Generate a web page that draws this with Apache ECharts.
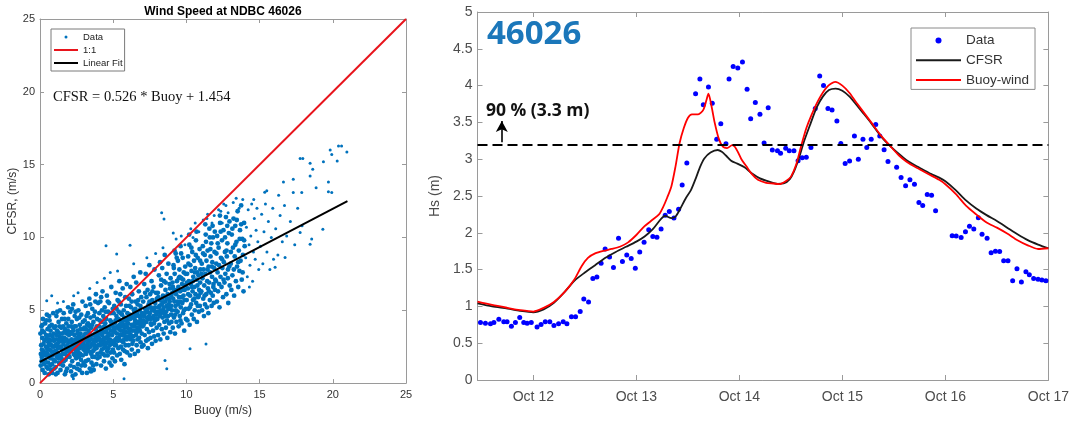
<!DOCTYPE html>
<html>
<head>
<meta charset="utf-8">
<script src="https://cdn.jsdelivr.net/npm/echarts@6/dist/echarts.min.js"></script>
<style>
html,body{margin:0;padding:0;background:#fff;}
#c{width:1072px;height:422px;}
</style>
</head>
<body>
<div id="c"></div>
<script>
// ---------- Left panel: wind speed scatter (Buoy vs CFSR, m/s) ----------
const windTicks = [0, 5, 10, 15, 20, 25];
// dense core of the cloud (Buoy 0-14 m/s)
const windCore = [
[0.05,1.2],[0.08,2.6],[0.1,3.9],[0.12,1.8],[0.15,3.1],[0.18,0.9],[0.2,4.4],[0.22,2.2],[0.25,1.5],[0.27,3.5],[0.3,2.9],[0.32,0.7],[0.35,4.1],[0.37,1.9],[0.4,2.5],[0.42,3.3],[0.45,1.1],[0.47,4.7],[0.5,2.0],[0.52,3.7],[0.55,1.4],[0.57,2.8],[0.6,0.6],[0.62,3.0],[0.65,4.3],[0.67,2.3],[0.7,1.7],[0.72,3.6],[0.75,0.9],[0.77,2.6],[0.8,4.0],[0.82,1.3],[0.85,3.2],[0.87,2.1],[0.9,4.8],[0.92,1.6],[0.95,2.9],[0.97,3.8],[0.03,3.4],[0.13,2.3],[0.28,1.3],[0.38,3.0],[0.48,2.4],[0.58,1.9],[0.68,3.3],[0.78,1.9],[0.88,2.5],[0.98,1.0],[0.43,4.3],[0.63,4.6],[0.33,2.0],[0.53,1.0],[0.73,2.9],[0.93,3.4],[0.17,4.0],[0.83,0.7],
[1.02,2.2],[1.05,3.9],[1.07,1.1],[1.1,3.0],[1.12,4.6],[1.15,1.8],[1.17,2.7],[1.2,0.7],[1.22,3.5],[1.25,2.0],[1.27,4.2],[1.3,1.4],[1.32,3.2],[1.35,2.5],[1.37,5.0],[1.4,0.9],[1.42,2.9],[1.45,3.8],[1.47,1.7],[1.5,4.4],[1.52,2.3],[1.55,3.4],[1.57,1.2],[1.6,2.7],[1.62,4.8],[1.65,2.0],[1.67,3.1],[1.7,0.6],[1.72,3.7],[1.75,1.6],[1.77,2.5],[1.8,4.1],[1.82,3.0],[1.85,1.0],[1.87,2.2],[1.9,3.6],[1.92,5.2],[1.95,1.9],[1.97,2.8],[1.03,1.5],[1.13,3.3],[1.23,2.4],[1.33,3.9],[1.43,1.9],[1.53,2.9],[1.63,1.5],[1.73,2.3],[1.83,3.4],[1.93,4.4],[1.18,4.9],[1.38,1.3],[1.58,3.9],[1.78,0.8],[1.98,3.3],[1.28,2.8],[1.48,3.1],[1.68,4.4],[1.88,2.6],[1.08,0.6],
[2.02,1.8],[2.05,3.5],[2.07,4.9],[2.1,2.4],[2.12,0.8],[2.15,3.0],[2.17,4.2],[2.2,1.5],[2.22,2.7],[2.25,3.8],[2.27,5.4],[2.3,2.0],[2.32,1.1],[2.35,3.3],[2.37,4.6],[2.4,2.6],[2.42,0.6],[2.45,3.9],[2.47,1.7],[2.5,2.9],[2.52,4.4],[2.55,2.2],[2.57,3.6],[2.6,1.3],[2.62,5.0],[2.65,2.7],[2.67,3.2],[2.7,0.9],[2.72,4.0],[2.75,2.0],[2.77,3.4],[2.8,1.6],[2.82,4.7],[2.85,2.5],[2.87,3.0],[2.9,5.6],[2.92,1.9],[2.95,3.7],[2.97,2.3],[2.03,2.9],[2.13,3.9],[2.23,0.5],[2.33,2.8],[2.43,4.9],[2.53,1.0],[2.63,2.1],[2.73,3.0],[2.83,1.2],[2.93,4.2],[2.08,1.2],[2.28,3.6],[2.48,2.4],[2.68,4.5],[2.88,0.7],[2.18,5.1],[2.38,1.9],[2.58,3.1],[2.78,2.6],[2.98,1.4],
[3.02,2.6],[3.05,4.3],[3.07,1.2],[3.1,3.4],[3.12,5.3],[3.15,2.0],[3.17,3.0],[3.2,0.7],[3.22,4.0],[3.25,2.4],[3.27,4.8],[3.3,1.6],[3.32,3.6],[3.35,2.9],[3.37,5.8],[3.4,1.0],[3.42,3.2],[3.45,4.5],[3.47,2.1],[3.5,3.8],[3.52,1.4],[3.55,2.7],[3.57,5.1],[3.6,3.3],[3.62,2.2],[3.65,4.2],[3.67,0.9],[3.7,3.0],[3.72,1.8],[3.75,4.9],[3.77,2.5],[3.8,3.7],[3.82,6.1],[3.85,1.3],[3.87,2.9],[3.9,4.4],[3.92,2.0],[3.95,3.5],[3.97,5.5],[3.03,3.8],[3.13,1.5],[3.23,3.1],[3.33,2.2],[3.43,5.4],[3.53,3.0],[3.63,1.2],[3.73,2.6],[3.83,3.2],[3.93,1.7],[3.08,2.2],[3.28,4.1],[3.48,0.8],[3.68,4.6],[3.88,3.9],[3.18,4.6],[3.38,2.5],[3.58,1.8],[3.78,5.6],[3.98,2.6],
[4.02,3.1],[4.05,4.8],[4.07,1.8],[4.1,2.6],[4.12,5.6],[4.15,3.6],[4.17,1.2],[4.2,4.2],[4.22,2.3],[4.25,3.3],[4.27,6.3],[4.3,2.0],[4.32,4.6],[4.35,2.9],[4.37,1.5],[4.4,3.9],[4.42,5.2],[4.45,2.5],[4.47,3.5],[4.5,1.0],[4.52,4.4],[4.55,2.8],[4.57,6.0],[4.6,3.2],[4.62,1.9],[4.65,4.9],[4.67,2.4],[4.7,3.8],[4.72,5.5],[4.75,1.4],[4.77,3.0],[4.8,4.3],[4.82,2.1],[4.85,3.6],[4.87,6.6],[4.9,2.7],[4.92,4.0],[4.95,1.7],[4.97,5.1],[4.03,3.9],[4.13,2.1],[4.23,5.0],[4.33,3.5],[4.43,1.9],[4.53,3.6],[4.63,5.6],[4.73,2.9],[4.83,4.8],[4.93,3.3],[4.08,4.3],[4.28,2.7],[4.48,4.9],[4.68,3.4],[4.88,1.2],[4.18,5.9],[4.38,3.1],[4.58,2.2],[4.78,3.9],[4.98,2.3],
[5.02,3.6],[5.05,2.1],[5.07,5.3],[5.1,4.1],[5.12,1.5],[5.15,3.0],[5.17,6.2],[5.2,2.6],[5.22,4.6],[5.25,3.4],[5.27,1.9],[5.3,5.7],[5.32,3.9],[5.35,2.4],[5.37,4.9],[5.4,3.1],[5.42,7.0],[5.45,2.0],[5.47,4.3],[5.5,3.6],[5.52,5.4],[5.55,1.6],[5.57,2.9],[5.6,4.7],[5.62,3.3],[5.65,6.5],[5.67,2.3],[5.7,4.0],[5.72,5.0],[5.75,3.0],[5.77,1.3],[5.8,3.8],[5.82,5.9],[5.85,2.6],[5.87,4.4],[5.9,3.5],[5.92,6.8],[5.95,2.1],[5.97,4.8],[5.03,4.8],[5.13,3.5],[5.23,5.1],[5.33,2.9],[5.43,4.0],[5.53,2.5],[5.63,4.2],[5.73,3.5],[5.83,4.3],[5.93,3.0],[5.08,2.8],[5.28,4.4],[5.48,6.1],[5.68,2.8],[5.88,5.3],[5.18,3.8],[5.38,5.6],[5.58,3.9],[5.78,2.2],[5.98,3.8],
[6.02,4.1],[6.05,2.6],[6.07,5.8],[6.1,3.5],[6.12,4.7],[6.15,1.9],[6.17,6.6],[6.2,3.0],[6.22,5.2],[6.25,4.0],[6.27,2.3],[6.3,6.1],[6.32,3.6],[6.35,4.5],[6.37,2.9],[6.4,7.3],[6.42,5.0],[6.45,3.9],[6.47,2.0],[6.5,4.3],[6.52,5.6],[6.55,3.3],[6.57,6.9],[6.6,2.6],[6.62,4.8],[6.65,3.8],[6.67,5.4],[6.7,2.2],[6.72,4.1],[6.75,6.3],[6.77,3.1],[6.8,5.0],[6.82,3.6],[6.85,7.6],[6.87,2.8],[6.9,4.6],[6.92,5.9],[6.95,3.4],[6.97,4.2],[6.06,3.2],[6.16,4.4],[6.26,5.6],[6.36,3.2],[6.46,4.8],[6.56,4.1],[6.66,3.0],[6.76,4.6],[6.86,5.3],[6.96,2.5],[6.11,5.3],[6.31,2.7],[6.51,3.6],[6.71,5.7],[6.91,3.9],
[7.02,3.9],[7.05,5.6],[7.07,2.6],[7.1,4.6],[7.12,6.8],[7.15,3.3],[7.17,5.1],[7.2,4.2],[7.22,7.5],[7.25,2.9],[7.27,5.9],[7.3,3.7],[7.32,4.9],[7.35,6.4],[7.37,2.4],[7.4,4.4],[7.42,5.4],[7.45,3.5],[7.47,8.1],[7.5,4.8],[7.52,6.1],[7.55,3.1],[7.57,5.2],[7.6,4.0],[7.62,7.0],[7.65,2.7],[7.67,5.7],[7.7,4.5],[7.72,3.6],[7.75,6.6],[7.77,5.0],[7.8,3.2],[7.82,7.8],[7.85,4.3],[7.87,5.5],[7.9,2.9],[7.92,6.2],[7.95,4.7],[7.97,3.8],[7.08,4.0],[7.18,6.2],[7.28,4.5],[7.38,3.0],[7.48,5.6],[7.58,4.4],[7.68,6.3],[7.78,4.1],[7.88,4.9],[7.98,5.8],
[8.02,4.4],[8.05,6.2],[8.07,3.3],[8.1,5.2],[8.12,7.4],[8.15,4.0],[8.17,5.7],[8.2,8.3],[8.22,3.0],[8.25,4.8],[8.27,6.7],[8.3,5.4],[8.32,3.7],[8.35,7.9],[8.37,4.5],[8.4,6.0],[8.42,5.0],[8.45,3.4],[8.47,7.0],[8.5,4.2],[8.52,8.8],[8.55,5.6],[8.57,6.4],[8.6,3.8],[8.62,4.9],[8.65,7.5],[8.67,5.3],[8.7,3.1],[8.72,6.1],[8.75,4.6],[8.77,8.2],[8.8,5.8],[8.82,4.1],[8.85,6.8],[8.87,5.1],[8.9,3.5],[8.92,7.2],[8.95,4.7],[8.97,6.0],[8.08,5.9],[8.18,4.6],[8.28,7.1],[8.38,5.5],[8.48,4.8],[8.58,6.9],[8.68,4.3],[8.78,5.4],[8.88,6.5],[8.98,4.2],
[9.02,5.0],[9.05,6.9],[9.07,3.8],[9.1,5.8],[9.12,8.1],[9.15,4.5],[9.17,6.4],[9.2,7.5],[9.22,3.4],[9.25,5.3],[9.27,8.9],[9.3,6.1],[9.32,4.2],[9.35,7.0],[9.37,5.6],[9.4,4.9],[9.42,8.4],[9.45,6.6],[9.47,3.9],[9.5,5.9],[9.52,7.8],[9.55,4.6],[9.57,6.3],[9.6,9.4],[9.62,5.2],[9.65,7.2],[9.67,4.1],[9.7,6.8],[9.72,5.5],[9.75,8.6],[9.77,4.8],[9.8,6.0],[9.82,7.6],[9.85,3.6],[9.87,5.7],[9.9,6.7],[9.92,8.0],[9.95,5.1],[9.97,4.4],[9.08,6.6],[9.28,5.0],[9.48,7.2],[9.68,5.9],[9.88,6.4],[9.18,5.6],[9.38,6.4],[9.58,5.6],[9.78,7.1],
[10.02,5.7],[10.05,7.5],[10.07,4.3],[10.1,6.5],[10.12,8.7],[10.15,5.1],[10.17,7.0],[10.2,9.5],[10.22,4.0],[10.25,6.0],[10.27,8.1],[10.3,6.8],[10.32,5.4],[10.35,7.7],[10.37,4.7],[10.4,9.0],[10.42,6.3],[10.45,5.7],[10.47,7.3],[10.5,4.4],[10.52,8.4],[10.55,6.6],[10.57,5.0],[10.6,7.9],[10.62,6.1],[10.65,9.8],[10.67,5.5],[10.7,7.1],[10.72,4.2],[10.75,6.7],[10.77,8.6],[10.8,5.9],[10.82,7.4],[10.85,4.9],[10.87,6.4],[10.9,9.2],[10.92,5.3],[10.95,7.8],[10.97,6.2],[10.12,6.1],[10.38,6.6],[10.58,7.6],[10.78,5.3],[10.94,6.9],
[11.02,6.3],[11.05,8.2],[11.07,5.0],[11.1,7.2],[11.12,9.4],[11.15,5.8],[11.17,7.8],[11.2,4.6],[11.22,6.7],[11.25,8.8],[11.27,5.4],[11.3,7.5],[11.32,10.2],[11.35,6.1],[11.37,8.4],[11.4,5.2],[11.42,7.0],[11.45,9.1],[11.47,6.5],[11.5,4.8],[11.52,8.0],[11.55,6.9],[11.57,10.6],[11.6,5.7],[11.62,7.6],[11.65,8.7],[11.67,6.2],[11.7,9.6],[11.72,5.3],[11.75,7.3],[11.77,8.3],[11.8,6.0],[11.82,10.0],[11.85,6.8],[11.87,5.5],[11.9,7.9],[11.92,9.0],[11.95,6.4],[11.97,7.1],[11.6,10.0],
[12.02,7.0],[12.05,8.9],[12.08,5.6],[12.1,10.1],[12.13,7.6],[12.16,6.3],[12.2,9.3],[12.23,8.1],[12.26,5.2],[12.3,11.0],[12.33,7.3],[12.36,8.6],[12.4,6.6],[12.43,9.8],[12.46,7.9],[12.5,5.9],[12.53,10.5],[12.56,8.3],[12.6,6.9],[12.63,9.0],[12.66,7.5],[12.7,11.4],[12.73,6.1],[12.76,8.7],[12.8,9.6],[12.83,7.2],[12.86,5.5],[12.9,10.3],[12.93,8.0],[12.96,6.7],
[13.03,8.2],[13.07,6.4],[13.1,10.2],[13.14,7.4],[13.18,9.3],[13.22,11.3],[13.26,6.0],[13.3,8.7],[13.34,10.8],[13.38,7.0],[13.42,9.7],[13.46,8.0],[13.5,11.8],[13.54,6.6],[13.58,9.1],[13.62,7.7],[13.66,10.5],[13.7,8.4],[13.74,12.2],[13.78,7.1],[13.82,9.9],[13.86,8.8],[13.9,6.3],[13.94,11.0],[13.98,9.4]
];
// extra points where the cloud is densest
const windCoreFill = [
[0.06,2.0],[0.16,3.6],[0.24,2.7],[0.36,1.6],[0.46,3.2],[0.56,2.3],[0.66,3.9],[0.76,2.2],[0.86,1.9],[0.96,2.5],[0.11,1.5],[0.41,2.1],[0.71,1.2],[0.91,3.0],[0.61,2.6],
[1.06,2.6],[1.16,3.6],[1.26,1.7],[1.36,3.0],[1.46,2.5],[1.56,2.0],[1.66,3.5],[1.76,2.9],[1.86,1.8],[1.96,3.9],[1.11,2.2],[1.41,3.4],[1.71,2.0],[1.91,2.4],[1.51,1.5],
[2.06,2.2],[2.16,3.4],[2.26,2.4],[2.36,3.9],[2.46,2.2],[2.56,3.4],[2.66,1.8],[2.76,3.7],[2.86,2.8],[2.96,3.2],[2.11,2.8],[2.41,3.0],[2.71,2.4],[2.91,2.6],[2.51,1.9],
[3.06,2.9],[3.16,3.7],[3.26,2.7],[3.36,3.4],[3.46,2.5],[3.56,4.0],[3.66,2.8],[3.76,3.4],[3.86,2.4],[3.96,3.0],[3.11,2.5],[3.41,3.9],[3.71,2.3],[3.91,3.2],[3.51,2.0],
[4.06,3.4],[4.16,2.8],[4.26,3.8],[4.36,2.4],[4.46,4.1],[4.56,3.1],[4.66,3.8],[4.76,2.6],[4.86,4.2],[4.96,3.6],[4.11,3.0],[4.41,4.4],[4.71,3.3],[4.91,2.9],[4.51,2.7],
[5.06,3.8],[5.16,4.3],[5.26,3.1],[5.36,4.4],[5.46,3.3],[5.56,4.1],[5.66,3.6],[5.76,4.5],[5.86,3.2],[5.96,4.1],[5.11,2.6],[5.41,3.7],[5.71,3.3],[5.91,3.9],[5.51,4.8],
[6.06,4.4],[6.16,3.7],[6.26,4.6],[6.36,3.9],[6.46,4.1],[6.56,4.6],[6.66,4.2],[6.76,3.8],[6.86,4.4],[6.96,4.8],[6.21,3.3],[6.41,4.5],[6.61,3.5],[6.81,4.1],[6.51,5.1],
[7.06,4.3],[7.16,4.8],[7.26,4.2],[7.36,5.1],[7.46,4.6],[7.56,4.1],[7.66,5.0],[7.76,4.6],[7.86,5.2],[7.96,4.4],
[8.06,4.9],[8.16,5.3],[8.26,5.0],[8.36,5.8],[8.46,5.2],[8.56,4.6],[8.66,5.8],[8.76,5.1],[8.86,5.6],[8.96,5.3],
[9.04,6.2],[9.14,7.9],[9.24,4.7],[9.34,8.6],[9.44,5.4],[9.54,7.3],[9.64,8.9],[9.74,6.4],[9.84,5.0],[9.94,7.5],[9.19,9.1],[9.59,4.3],
[10.04,6.9],[10.14,8.2],[10.24,5.2],[10.34,9.3],[10.44,7.0],[10.54,5.8],[10.64,8.8],[10.74,7.6],[10.84,6.0],[10.94,8.4],[10.19,10.2],[10.69,10.4],
[11.04,7.5],[11.14,8.9],[11.24,6.0],[11.34,9.7],[11.44,7.8],[11.54,6.3],[11.64,9.2],[11.74,8.0],[11.84,6.6],[11.94,10.4],[11.29,10.9],[11.79,10.8],
[12.04,8.2],[12.14,9.6],[12.24,6.8],[12.34,10.4],[12.44,8.5],[12.54,7.1],[12.64,10.0],[12.74,9.1],[12.84,7.8],[12.94,11.1],[12.29,11.5],[12.79,10.8],
[13.04,9.0],[13.14,10.6],[13.24,7.8],[13.34,9.5],[13.44,11.2],[13.54,8.3],[13.64,9.9],[13.74,10.9],[13.84,7.6],[13.94,9.8]
];
// sparse fringe, high-wind tail and outliers
const windSparse = [
[1.6,5.6],[1.2,5.5],[2.6,6.2],[2.3,6.0],[3.4,6.5],[3.9,6.9],[4.4,7.2],[4.8,7.6],[5.3,7.7],[6.4,8.2],[7.3,8.6],[7.9,8.9],[8.4,9.3],
[9.1,10.3],[9.3,9.9],[9.65,10.1],[9.9,9.5],[10.3,10.6],[10.6,11.0],[10.85,10.4],[10.45,10.0],
[11.4,11.3],[11.15,11.2],[11.45,11.6],[11.75,11.0],[11.9,11.5],
[12.2,11.9],[12.7,12.2],[12.35,11.8],[12.55,12.3],[12.85,11.7],[12.45,11.0],
[13.4,12.7],[13.2,12.4],[13.6,12.0],[13.85,12.6],
[14.05,8.6],[14.1,10.7],[14.16,7.3],[14.22,11.9],[14.28,9.5],[14.34,8.1],[14.4,10.1],[14.46,12.3],[14.52,7.0],[14.58,9.0],[14.64,11.3],[14.7,8.5],[14.76,10.5],[14.82,12.0],[14.88,9.7],[14.94,7.8],[14.3,6.6],[14.6,12.6],
[15.06,9.4],[15.14,11.6],[15.22,8.2],[15.3,10.4],[15.4,12.3],[15.5,9.0],[15.6,11.1],[15.7,7.8],[15.8,10.0],[15.9,12.0],[15.35,13.1],
[16.1,10.6],[16.25,8.8],[16.4,11.5],[16.55,9.7],[16.7,12.2],[16.85,10.1],[16.3,12.9],
[17.1,11.1],[17.4,9.5],[17.6,12.0],[17.9,10.8],
[20.39,16.28],[20.6,16.28],[20.96,15.87],[19.82,16.0],[19.93,15.7],[20.3,15.25],[19.36,15.2],[17.77,15.43],[17.95,15.43],[18.45,15.09],[18.63,14.68],[18.45,14.22],[18.86,13.42],[19.7,13.8],[19.7,13.13],[19.93,13.08],[19.32,10.57],[18.56,9.89],[18.45,9.54],[17.77,10.34],[16.63,13.8],[17.3,14.0],[17.3,13.08],[17.88,13.08],[15.49,13.2],[15.95,8.5],[16.06,7.95],[16.74,8.63],[8.31,11.7],[8.47,11.26],[6.15,9.47],[4.51,9.43],[5.24,8.86],[0.8,6.0],[0.46,5.66],[10.25,2.35],[11.34,2.69],[8.54,1.55],[8.66,0.98],[5.74,0.3],[2.28,0.3]
];
const oneToOne = [[0, 0], [25, 25]];
const linearFit = [[0, 1.454], [21, 12.5]];

// ---------- Right panel: Hs at 46026 (day of October, m) ----------
const dayTicks = [12, 13, 14, 15, 16, 17];
const buoyDays = [11.487,11.535,11.584,11.617,11.665,11.713,11.745,11.787,11.826,11.868,11.907,11.94,11.98,12.036,12.075,12.116,12.16,12.20,12.245,12.29,12.326,12.37,12.41,12.455,12.49,12.536,12.578,12.617,12.658,12.697,12.74,12.778,12.827,12.865,12.907,12.95,12.99,13.033,13.075,13.12,13.16,13.20,13.24,13.28,13.32,13.365,13.41,13.445,13.49,13.575,13.617,13.65,13.70,13.737,13.78,13.82,13.87,13.90,13.94,13.985,14.03,14.075,14.11,14.155,14.20,14.24,14.28,14.32,14.37,14.40,14.45,14.485,14.53,14.57,14.61,14.65,14.695,14.737,14.78,14.817,14.86,14.90,14.947,14.985,15.027,15.07,15.117,15.155,15.20,15.237,15.28,15.324,15.363,15.405,15.443,15.527,15.57,15.614,15.656,15.70,15.743,15.78,15.824,15.866,15.905,16.066,16.105,16.153,16.195,16.234,16.276,16.32,16.356,16.405,16.444,16.486,16.527,16.566,16.608,16.653,16.695,16.738,16.782,16.815,16.857,16.90,16.937,16.976];
const buoyHs = [0.78,0.77,0.765,0.78,0.825,0.79,0.79,0.73,0.78,0.85,0.78,0.77,0.78,0.72,0.755,0.79,0.79,0.74,0.765,0.79,0.765,0.86,0.86,0.93,1.10,1.06,1.38,1.40,1.585,1.78,1.67,1.53,1.925,1.61,1.70,1.65,1.52,1.74,1.87,2.04,1.95,1.94,2.05,2.24,2.29,2.20,2.32,2.65,2.95,3.89,4.09,3.74,3.98,3.76,3.27,3.48,3.21,4.09,4.26,4.24,4.32,3.95,3.55,3.77,3.61,3.22,3.70,3.125,3.115,3.08,3.15,3.115,3.115,2.98,3.02,3.025,3.16,3.69,4.13,4.00,3.69,3.67,3.52,3.215,2.94,2.975,3.315,3.00,3.27,3.16,3.27,3.47,3.315,3.13,2.97,2.89,2.75,2.64,2.72,2.66,2.41,2.37,2.52,2.51,2.30,1.96,1.955,1.935,2.015,2.09,2.05,2.205,1.98,1.925,1.73,1.75,1.745,1.62,1.62,1.35,1.51,1.33,1.47,1.43,1.38,1.37,1.36,1.35];
const cfsrDays = [11.458,11.6,11.75,11.87,12.0,12.1,12.2,12.3,12.4,12.5,12.6,12.7,12.8,12.9,13.0,13.08,13.16,13.24,13.28,13.34,13.38,13.42,13.48,13.53,13.58,13.62,13.66,13.72,13.79,13.83,13.87,13.92,13.98,14.05,14.12,14.2,14.29,14.37,14.43,14.49,14.53,14.58,14.63,14.69,14.75,14.81,14.87,14.935,15.0,15.07,15.13,15.2,15.28,15.375,15.47,15.55,15.62,15.7,15.78,15.86,15.94,16.0,16.1,16.2,16.3,16.4,16.5,16.6,16.7,16.8,16.9,17.0];
const cfsrHs = [1.04,1.0,0.97,0.94,0.92,0.96,1.05,1.19,1.35,1.46,1.56,1.66,1.74,1.81,1.88,1.95,2.05,2.19,2.23,2.20,2.22,2.31,2.47,2.58,2.75,2.90,3.01,3.09,3.125,3.10,3.05,2.98,2.94,2.89,2.81,2.74,2.695,2.665,2.67,2.73,2.83,3.02,3.25,3.48,3.70,3.85,3.94,3.96,3.93,3.85,3.75,3.63,3.49,3.31,3.17,3.07,2.99,2.92,2.86,2.80,2.75,2.70,2.58,2.44,2.33,2.24,2.16,2.07,1.98,1.90,1.84,1.79];
const windDays = [11.458,11.6,11.75,11.87,12.0,12.1,12.2,12.3,12.4,12.47,12.53,12.6,12.68,12.76,12.84,12.92,13.0,13.08,13.16,13.22,13.26,13.3,13.34,13.38,13.42,13.46,13.5,13.54,13.6,13.65,13.68,13.70,13.73,13.76,13.8,13.84,13.88,13.93,13.97,14.02,14.07,14.12,14.18,14.26,14.33,14.39,14.45,14.5,14.55,14.6,14.65,14.7,14.77,14.85,14.93,15.0,15.07,15.13,15.2,15.28,15.375,15.47,15.55,15.62,15.7,15.78,15.86,15.94,16.0,16.1,16.2,16.3,16.4,16.5,16.6,16.7,16.8,16.9,17.0];
const windHs = [1.065,1.02,0.98,0.95,0.93,0.98,1.06,1.19,1.37,1.55,1.66,1.72,1.755,1.78,1.81,1.87,1.97,2.09,2.18,2.25,2.35,2.48,2.63,2.90,3.22,3.42,3.56,3.61,3.61,3.67,3.80,3.89,3.72,3.50,3.28,3.17,3.15,3.19,3.14,3.00,2.90,2.80,2.72,2.68,2.67,2.66,2.70,2.76,2.92,3.18,3.42,3.60,3.81,3.98,4.05,4.00,3.90,3.78,3.65,3.50,3.32,3.17,3.05,2.97,2.90,2.84,2.78,2.72,2.66,2.53,2.37,2.25,2.14,2.07,1.99,1.90,1.83,1.78,1.79];
const threshold = 3.2;
const arrowFrom = [11.694, 3.23];
const arrowTo = [11.694, 3.52];

const zip = (a, b) => a.map((v, i) => [v, b[i]]);

const chart = echarts.init(document.getElementById('c'), null, {renderer: 'canvas'});
const SANS = '"Liberation Sans", Arial, sans-serif';
const frame = '#9a9a9a';

function boxAxis(gridIndex, pos, extra) {
  return Object.assign({
    type: 'value', gridIndex: gridIndex, position: pos,
    axisLine: {show: true, onZero: false, lineStyle: {color: frame, width: 1}},
    axisTick: {show: true, inside: true, length: 4, lineStyle: {color: frame}},
    axisLabel: {show: false},
    splitLine: {show: false}
  }, extra);
}
const noDot = {opacity: 0};
const cloudStyle = {color: '#0072BD', opacity: 1};

const option = {
  animation: false,
  backgroundColor: '#fff',
  grid: [
    {left: 40, top: 19, width: 366, height: 365},
    {left: 477.5, top: 12, width: 572.5, height: 368}
  ],
  xAxis: [
    boxAxis(0, 'bottom', {min: 0, max: 25, interval: 5,
      axisLabel: {show: true, fontSize: 11, color: '#333', fontFamily: SANS, margin: 6},
      name: 'Buoy (m/s)', nameLocation: 'middle', nameGap: 21,
      nameTextStyle: {fontSize: 12, color: '#333', fontFamily: SANS}}),
    boxAxis(0, 'top', {min: 0, max: 25, interval: 5}),
    boxAxis(1, 'bottom', {min: 11.458, max: 17,
      axisTick: {show: true, inside: true, length: 5, lineStyle: {color: frame}, customValues: dayTicks},
      axisLabel: {show: true, customValues: dayTicks, fontSize: 14, color: '#4d4d4d', fontFamily: SANS, margin: 10,
        formatter: v => 'Oct ' + Math.round(v)}}),
    boxAxis(1, 'top', {min: 11.458, max: 17,
      axisTick: {show: true, inside: true, length: 5, lineStyle: {color: frame}, customValues: dayTicks}})
  ],
  yAxis: [
    boxAxis(0, 'left', {min: 0, max: 25, interval: 5,
      axisLabel: {show: true, fontSize: 11, color: '#333', fontFamily: SANS, margin: 5},
      name: 'CFSR, (m/s)', nameLocation: 'middle', nameGap: 17,
      nameTextStyle: {fontSize: 12, color: '#333', fontFamily: SANS}}),
    boxAxis(0, 'right', {min: 0, max: 25, interval: 5}),
    boxAxis(1, 'left', {min: 0, max: 5, interval: 0.5,
      axisTick: {show: true, inside: true, length: 5, lineStyle: {color: frame}},
      axisLabel: {show: true, fontSize: 14, color: '#4d4d4d', fontFamily: SANS, margin: 5},
      name: 'Hs (m)', nameLocation: 'middle', nameGap: 31,
      nameTextStyle: {fontSize: 14, color: '#4d4d4d', fontFamily: SANS}}),
    boxAxis(1, 'right', {min: 0, max: 5, interval: 0.5,
      axisTick: {show: true, inside: true, length: 5, lineStyle: {color: frame}}})
  ],
  legend: [
    {
      left: 51, top: 29, orient: 'vertical', selectedMode: false,
      itemWidth: 24, itemHeight: 3, itemGap: 1,
      padding: [2, 2, 2, 2],
      borderColor: '#7a7a7a', borderWidth: 1,
      textStyle: {fontSize: 9.5, color: '#222', fontFamily: SANS, lineHeight: 12},
      data: [{name: 'Data', icon: 'circle', itemStyle: {color: '#0072BD'}},
             {name: '1:1', itemStyle: noDot}, {name: 'Linear Fit', itemStyle: noDot}]
    },
    {
      left: 911, top: 28, orient: 'vertical', selectedMode: false,
      itemWidth: 45, itemHeight: 6, itemGap: 4.7,
      padding: [5, 6, 2, 4],
      borderColor: '#8a8a8a', borderWidth: 1,
      textStyle: {fontSize: 13.5, color: '#333', fontFamily: SANS, lineHeight: 15},
      data: [{name: 'Data', icon: 'circle', itemStyle: {color: '#0000ff'}},
             {name: 'CFSR', itemStyle: noDot}, {name: 'Buoy-wind', itemStyle: noDot}]
    }
  ],
  series: [
    {
      name: 'Data', type: 'scatter', xAxisIndex: 0, yAxisIndex: 0,
      symbol: 'circle', symbolSize: 4.8, silent: true, itemStyle: cloudStyle, data: windCore
    },
    {
      name: 'Data', type: 'scatter', xAxisIndex: 0, yAxisIndex: 0,
      symbol: 'circle', symbolSize: 4.8, silent: true, itemStyle: cloudStyle, data: windCoreFill
    },
    {
      name: 'Data', type: 'scatter', xAxisIndex: 0, yAxisIndex: 0,
      symbol: 'circle', symbolSize: 3, silent: true, itemStyle: cloudStyle, data: windSparse
    },
    {
      name: '1:1', type: 'line', xAxisIndex: 0, yAxisIndex: 0, symbol: 'none', silent: true,
      lineStyle: {color: '#e8141c', width: 2}, itemStyle: {color: '#e8141c'}, data: oneToOne
    },
    {
      name: 'Linear Fit', type: 'line', xAxisIndex: 0, yAxisIndex: 0, symbol: 'none', silent: true,
      lineStyle: {color: '#000', width: 2}, itemStyle: {color: '#000'}, data: linearFit
    },
    {
      name: 'Data', type: 'scatter', xAxisIndex: 2, yAxisIndex: 2,
      symbol: 'circle', symbolSize: 5, silent: true,
      itemStyle: {color: '#0000ff', opacity: 1}, data: zip(buoyDays, buoyHs)
    },
    {
      name: 'CFSR', type: 'line', xAxisIndex: 2, yAxisIndex: 2, symbol: 'none', smooth: 0.25, silent: true,
      lineStyle: {color: '#1a1a1a', width: 1.8}, itemStyle: {color: '#1a1a1a'},
      data: zip(cfsrDays, cfsrHs),
      markLine: {
        silent: true, symbol: 'none', label: {show: false},
        lineStyle: {color: '#000', type: [10, 5], width: 2},
        data: [{yAxis: threshold}]
      }
    },
    {
      name: 'Buoy-wind', type: 'line', xAxisIndex: 2, yAxisIndex: 2, symbol: 'none', smooth: 0.25, silent: true,
      lineStyle: {color: '#ff0000', width: 1.8}, itemStyle: {color: '#ff0000'},
      data: zip(windDays, windHs),
      markLine: {
        silent: true, symbol: ['none', 'arrow'], symbolSize: [9, 11], label: {show: false},
        lineStyle: {color: '#000', type: 'solid', width: 1.6},
        data: [[{coord: arrowFrom}, {coord: arrowTo}]]
      }
    }
  ],
  graphic: [
    {type: 'text', x: 223, y: 12, z: 10,
      style: {text: 'Wind Speed at NDBC 46026', fill: '#000', font: 'bold 12px "Liberation Sans", Arial',
        align: 'center', verticalAlign: 'middle'}},
    {type: 'text', x: 53, y: 97, z: 10,
      style: {text: 'CFSR = 0.526 * Buoy + 1.454', fill: '#111', font: '14.5px "Liberation Serif", "Times New Roman", serif',
        align: 'left', verticalAlign: 'middle'}},
    {type: 'text', x: 487, y: 35, z: 10,
      style: {text: '46026', fill: '#1b77ba', font: 'bold 33px "Open Sans", sans-serif',
        align: 'left', verticalAlign: 'middle'}},
    {type: 'text', x: 486, y: 111, z: 10,
      style: {text: '90 % (3.3 m)', fill: '#111', font: 'bold 17.5px "Open Sans", sans-serif',
        align: 'left', verticalAlign: 'middle'}},
    {type: 'rect', z: 100, shape: {x: 470, y: 401, width: 602, height: 21}, style: {fill: '#fff'}}
  ]
};
chart.setOption(option);
</script>
</body>
</html>
